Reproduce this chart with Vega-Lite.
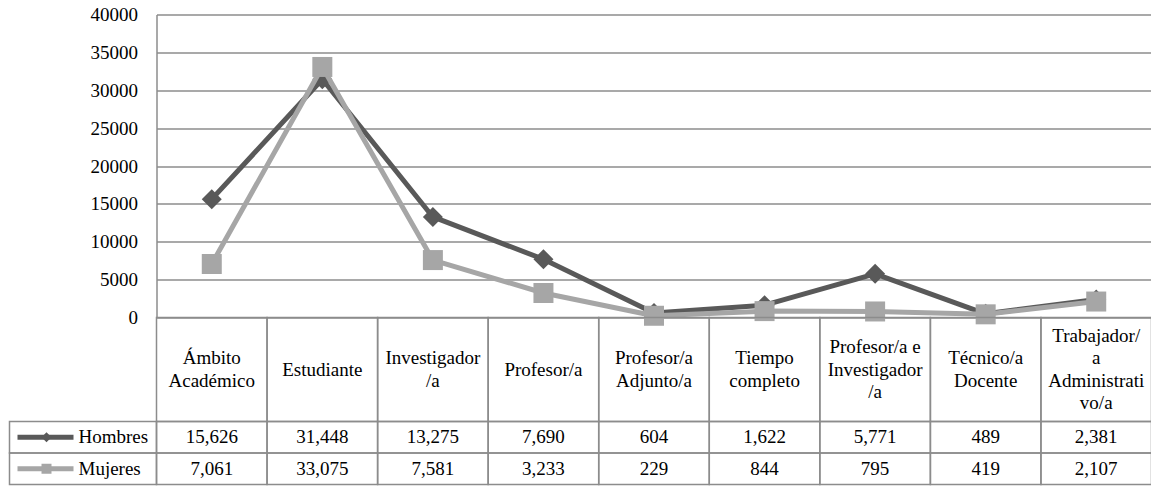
{
  "$schema": "https://vega.github.io/schema/vega-lite/v6.json",
  "padding": {"left": 7.5, "top": 5.5, "right": 0, "bottom": 0},
  "background": "white",
  "config": {"view": {"stroke": null}},
  "datasets": {
    "vals": [
      {"cat": "Ámbito Académico", "series": "Hombres", "value": 15626},
      {"cat": "Estudiante", "series": "Hombres", "value": 31448},
      {"cat": "Investigador/a", "series": "Hombres", "value": 13275},
      {"cat": "Profesor/a", "series": "Hombres", "value": 7690},
      {"cat": "Profesor/a Adjunto/a", "series": "Hombres", "value": 604},
      {"cat": "Tiempo completo", "series": "Hombres", "value": 1622},
      {"cat": "Profesor/a e Investigador/a", "series": "Hombres", "value": 5771},
      {"cat": "Técnico/a Docente", "series": "Hombres", "value": 489},
      {"cat": "Trabajador/a Administrativo/a", "series": "Hombres", "value": 2381},
      {"cat": "Ámbito Académico", "series": "Mujeres", "value": 7061},
      {"cat": "Estudiante", "series": "Mujeres", "value": 33075},
      {"cat": "Investigador/a", "series": "Mujeres", "value": 7581},
      {"cat": "Profesor/a", "series": "Mujeres", "value": 3233},
      {"cat": "Profesor/a Adjunto/a", "series": "Mujeres", "value": 229},
      {"cat": "Tiempo completo", "series": "Mujeres", "value": 844},
      {"cat": "Profesor/a e Investigador/a", "series": "Mujeres", "value": 795},
      {"cat": "Técnico/a Docente", "series": "Mujeres", "value": 419},
      {"cat": "Trabajador/a Administrativo/a", "series": "Mujeres", "value": 2107}
    ],
    "cats": [
      {"cat": "Ámbito Académico", "label": "Ámbito\nAcadémico"},
      {"cat": "Estudiante", "label": "Estudiante"},
      {"cat": "Investigador/a", "label": "Investigador\n/a"},
      {"cat": "Profesor/a", "label": "Profesor/a"},
      {"cat": "Profesor/a Adjunto/a", "label": "Profesor/a\nAdjunto/a"},
      {"cat": "Tiempo completo", "label": "Tiempo\ncompleto"},
      {"cat": "Profesor/a e Investigador/a", "label": "Profesor/a e\nInvestigador\n/a"},
      {"cat": "Técnico/a Docente", "label": "Técnico/a\nDocente"},
      {"cat": "Trabajador/a Administrativo/a", "label": "Trabajador/\na\nAdministrati\nvo/a"}
    ],
    "series": [
      {"series": "Hombres"},
      {"series": "Mujeres"}
    ]
  },
  "columns": 2,
  "spacing": 0,
  "bounds": "flush",
  "align": "each",
  "concat": [
    {
      "width": 147, "height": 303,
      "data": {"name": "series"},
      "mark": {"type": "text"},
      "encoding": {"text": {"value": ""}}
    },
    {
      "width": 995, "height": 303,
      "data": {"name": "vals"},
      "encoding": {
        "x": {"field": "cat", "type": "nominal", "sort": null, "scale": {"type": "point", "padding": 0.5}, "axis": null},
        "y": {
          "field": "value", "type": "quantitative",
          "scale": {"domain": [0, 40000], "nice": false},
          "axis": {
            "values": [0, 5000, 10000, 15000, 20000, 25000, 30000, 35000, 40000],
            "format": "d", "title": null, "grid": true,
            "gridColor": "#8c8c8c", "gridWidth": 1.5, "gridOpacity": 1,
            "domainColor": "#8c8c8c", "domainWidth": 1.5,
            "ticks": false, "tickSize": 0, "labelPadding": 19,
            "labelFontSize": 19, "labelColor": "black", "labelFont": "Liberation Serif"
          }
        },
        "color": {"field": "series", "type": "nominal", "scale": {"domain": ["Hombres", "Mujeres"], "range": ["#595959", "#a6a6a6"]}, "legend": null}
      },
      "layer": [
        {"transform": [{"filter": "datum.series === 'Hombres'"}], "mark": {"type": "line", "strokeWidth": 5, "strokeJoin": "round"}},
        {"transform": [{"filter": "datum.series === 'Hombres'"}], "mark": {"type": "point", "shape": "diamond", "filled": true, "size": 400, "opacity": 1}},
        {"transform": [{"filter": "datum.series === 'Mujeres'"}], "mark": {"type": "line", "strokeWidth": 5, "strokeJoin": "round"}},
        {"transform": [{"filter": "datum.series === 'Mujeres'"}], "mark": {"type": "point", "shape": "square", "filled": true, "size": 400, "opacity": 1}}
      ]
    },
    {
      "width": 147, "height": 104,
      "data": {"name": "series"},
      "mark": {"type": "text"},
      "encoding": {"text": {"value": ""}}
    },
    {
      "width": 995, "height": 104,
      "data": {"name": "cats"},
      "encoding": {
        "x": {"field": "cat", "type": "nominal", "sort": null, "scale": {"type": "band", "paddingInner": 0, "paddingOuter": 0}, "axis": null}
      },
      "layer": [
        {"mark": {"type": "rect", "fillOpacity": 0, "stroke": "#8c8c8c", "strokeWidth": 1.5}, "encoding": {"y": {"value": 0}, "y2": {"value": "height"}}},
        {"mark": {"type": "text", "lineBreak": "\n", "fontSize": 19, "lineHeight": 22.5, "baseline": "middle", "align": "center", "fill": "black", "font": "Liberation Serif",
                  "dy": {"expr": "-(length(split(datum.label, '\\n')) - 1) * 11.25"}},
         "encoding": {"text": {"field": "label", "type": "nominal"}}}
      ]
    },
    {
      "width": 147, "height": 63,
      "data": {"name": "series"},
      "encoding": {
        "y": {"field": "series", "type": "nominal", "sort": null, "scale": {"type": "band", "paddingInner": 0, "paddingOuter": 0}, "axis": null}
      },
      "layer": [
        {"mark": {"type": "rect", "fillOpacity": 0, "stroke": "#8c8c8c", "strokeWidth": 1.5}, "encoding": {"x": {"value": 0}, "x2": {"value": "width"}}},
        {"mark": {"type": "point", "shape": "M-1,0L1,0", "filled": false, "size": 3136, "strokeWidth": 5, "strokeCap": "butt", "xOffset": -37.5, "opacity": 1},
         "encoding": {"color": {"field": "series", "type": "nominal", "scale": {"domain": ["Hombres", "Mujeres"], "range": ["#595959", "#a6a6a6"]}, "legend": null}}},
        {"transform": [{"filter": "datum.series === 'Hombres'"}],
         "mark": {"type": "point", "shape": "diamond", "filled": true, "size": 100, "xOffset": -36.5, "opacity": 1},
         "encoding": {"color": {"field": "series", "type": "nominal", "scale": {"domain": ["Hombres", "Mujeres"], "range": ["#595959", "#a6a6a6"]}, "legend": null}}},
        {"transform": [{"filter": "datum.series === 'Mujeres'"}],
         "mark": {"type": "point", "shape": "square", "filled": true, "size": 100, "xOffset": -36.5, "opacity": 1},
         "encoding": {"color": {"field": "series", "type": "nominal", "scale": {"domain": ["Hombres", "Mujeres"], "range": ["#595959", "#a6a6a6"]}, "legend": null}}},
        {"mark": {"type": "text", "align": "left", "dx": -4.5, "fontSize": 19, "baseline": "middle", "fill": "black", "font": "Liberation Serif"},
         "encoding": {"text": {"field": "series", "type": "nominal"}}}
      ]
    },
    {
      "width": 995, "height": 63,
      "data": {"name": "vals"},
      "encoding": {
        "x": {"field": "cat", "type": "nominal", "sort": null, "scale": {"type": "band", "paddingInner": 0, "paddingOuter": 0}, "axis": null},
        "y": {"field": "series", "type": "nominal", "sort": null, "scale": {"type": "band", "paddingInner": 0, "paddingOuter": 0}, "axis": null}
      },
      "layer": [
        {"mark": {"type": "rect", "fillOpacity": 0, "stroke": "#8c8c8c", "strokeWidth": 1.5}},
        {"mark": {"type": "text", "fontSize": 19, "baseline": "middle", "align": "center", "fill": "black", "font": "Liberation Serif"},
         "encoding": {"text": {"field": "value", "type": "quantitative", "format": ",d"}}}
      ]
    }
  ]
}
